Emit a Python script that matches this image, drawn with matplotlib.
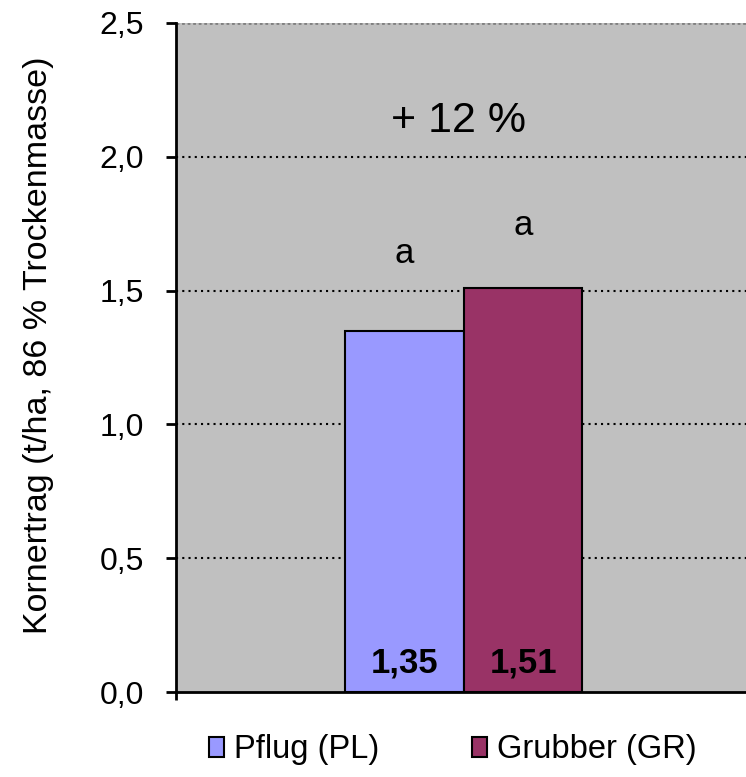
import matplotlib.pyplot as plt
from matplotlib.patches import Patch

plt.rcParams['font.family'] = ['Liberation Sans', 'DejaVu Sans']

# data
series = ['Pflug (PL)', 'Grubber (GR)']
values = [1.35, 1.51]
value_labels = ['1,35', '1,51']
letters = ['a', 'a']
letter_y = [1.64, 1.745]
colors = ['#9999FF', '#993366']
yticks = [0.0, 0.5, 1.0, 1.5, 2.0, 2.5]
ytick_labels = ['0,0', '0,5', '1,0', '1,5', '2,0', '2,5']

fig = plt.figure(figsize=(7.46, 7.77), dpi=100)
ax = fig.add_axes([176/746, 1 - 692/777, 1 - 176/746, (692 - 23)/777])
ax.set_facecolor('#C0C0C0')

xpos = [-0.104, 0.104]
width = 0.208
ax.bar(xpos, values, width=width, color=colors, edgecolor='black', linewidth=1.5, zorder=3)

# grid
for y in yticks[1:-1]:
    ax.axhline(y, color='black', linestyle=(0, (1, 2)), linewidth=1.5, zorder=1)
ax.axhline(2.5, color='#808080', linestyle=(0, (1, 1)), linewidth=2, zorder=1)

# labels on bars
for x, v, lab, let, ly in zip(xpos, values, value_labels, letters, letter_y):
    ax.text(x, 0.11, lab, ha='center', va='center', fontsize=25, fontweight='bold', zorder=4)
    ax.text(x, ly, let, ha='center', va='center', fontsize=25, zorder=4)

ax.text(-0.01, 2.134, '+ 12 %', ha='center', va='center', fontsize=31)

ax.set_xlim(-0.505, 0.495)
ax.set_ylim(0, 2.5)
ax.set_yticks(yticks)
ax.set_yticklabels(ytick_labels, fontsize=23)
ax.tick_params(axis='y', direction='out', length=7, width=2, pad=16)
ax.set_xticks([-0.505])
ax.set_xticklabels([''])
ax.tick_params(axis='x', direction='out', length=6, width=2)

for s in ['top', 'right']:
    ax.spines[s].set_visible(False)
ax.spines['left'].set_linewidth(2)
ax.spines['bottom'].set_linewidth(2)

ax.set_ylabel('Kornertrag (t/ha, 86 % Trockenmasse)', fontsize=24.5)
ax.yaxis.set_label_coords((54 - 176) / 570, 0.518)

handles = [Patch(facecolor=c, edgecolor='black', linewidth=1.5) for c in colors]
fig.legend(handles, series, loc='center', bbox_to_anchor=(0.607, 0.035), ncol=2,
           fontsize=23.5, frameon=False, handlelength=0.45, handleheight=0.55,
           handletextpad=0.3, columnspacing=2.85)

fig.savefig('out.png', dpi=100)
